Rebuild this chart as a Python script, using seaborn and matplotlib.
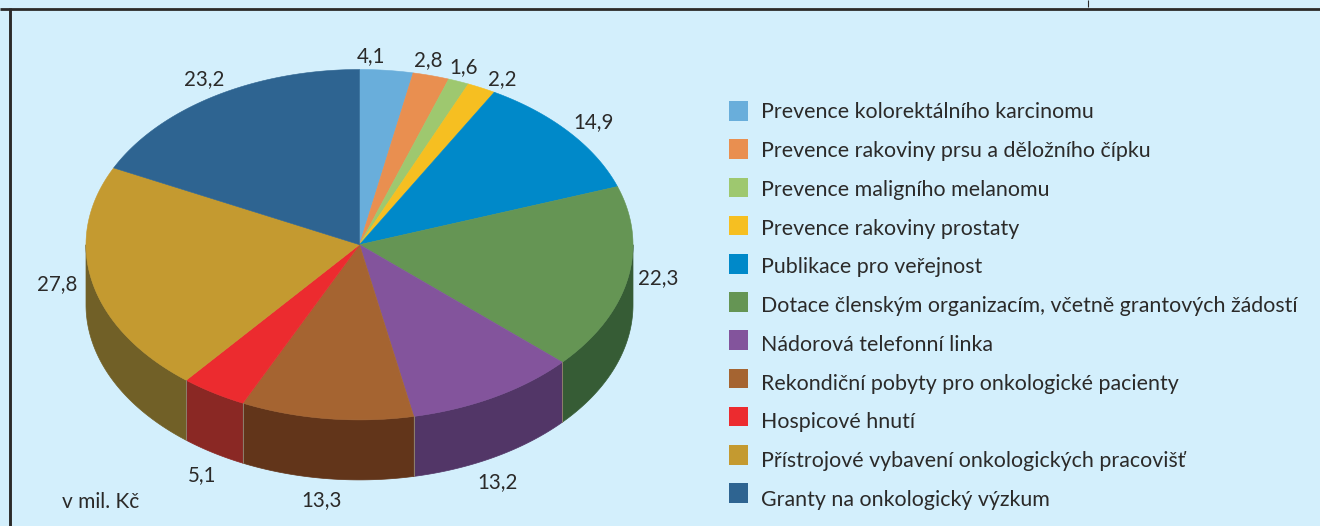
import numpy as np
import pandas as pd
import matplotlib
matplotlib.use('Agg')
import matplotlib.pyplot as plt
import seaborn as sns
from matplotlib.patches import Polygon

labels = ['Prevence kolorektálního karcinomu', 'Prevence rakoviny prsu a děložního čípku',
          'Prevence maligního melanomu', 'Prevence rakoviny prostaty', 'Publikace pro veřejnost',
          'Dotace členským organizacím, včetně grantových žádostí', 'Nádorová telefonní linka',
          'Rekondiční pobyty pro onkologické pacienty', 'Hospicové hnutí',
          'Přístrojové vybavení onkologických pracovišť', 'Granty na onkologický výzkum']
values = [4.1, 2.8, 1.6, 2.2, 14.9, 22.3, 13.2, 13.3, 5.1, 27.8, 23.2]
value_text = ['4,1', '2,8', '1,6', '2,2', '14,9', '22,3', '13,2', '13,3', '5,1', '27,8', '23,2']
top_colors = ['#69aedb', '#e98f50', '#9ec86f', '#f6bf21', '#0089c9', '#659554',
              '#83549c', '#a56431', '#ec2b2f', '#c49a30', '#2e6491']
side_colors = ['#3d6a8a', '#8f5a32', '#627d45', '#9a7815', '#00557e', '#365c35',
               '#523667', '#62351a', '#8a2824', '#716027', '#1d3f5c']

BG = '#d3effc'
DARK = '#2b2a29'
FONT = 'Lato'

sns.set_theme(style='white')
plt.rcParams['font.family'] = [FONT, 'DejaVu Sans']

fig = plt.figure(figsize=(13.2, 5.26), dpi=100, facecolor=BG)
ax = fig.add_axes([0, 0, 1, 1])
ax.set_xlim(0, 1320)
ax.set_ylim(526, 0)
ax.axis('off')

# pie geometry, angle runs clockwise from 12 o'clock
cx, cy, rx, ry, depth = 359.5, 244.7, 273.5, 175.2, 60


def rim(a0, a1, shift=0):
    t = np.radians(np.linspace(a0, a1, max(int(abs(a1 - a0) * 2), 2)))
    return np.column_stack([cx + rx * np.sin(t), cy - ry * np.cos(t) + shift])


edges = np.concatenate([[0], np.cumsum(values)]) / sum(values) * 360

# side wall first
for i in range(len(values)):
    a0, a1 = max(edges[i], 90), min(edges[i + 1], 270)
    if a1 <= a0:
        continue
    pts = np.vstack([rim(a0, a1), rim(a0, a1, depth)[::-1]])
    ax.add_patch(Polygon(pts, closed=True, fc=side_colors[i], ec=side_colors[i], lw=0.5))
    if a0 > 90:
        p = rim(a0, a0)[0]
        ax.plot([p[0], p[0]], [p[1], p[1] + depth], color='#8d7f6c', lw=0.7)

# top face
for i in range(len(values)):
    pts = np.vstack([[cx, cy], rim(edges[i], edges[i + 1])])
    ax.add_patch(Polygon(pts, closed=True, fc=top_colors[i], ec=top_colors[i], lw=0.4))

# value labels, placed by baseline
label_xy = [(371.5, 62.5), (428, 66.5), (463.5, 73.5), (502, 85.5), (594, 128.5), (658, 284.5),
            (498, 488.5), (322, 506.5), (202.5, 481.5), (57.5, 290.5), (204, 85.5)]
for txt, (x, y) in zip(value_text, label_xy):
    ax.text(x, y, txt, ha='center', va='baseline', fontsize=14.8, color=DARK)

ax.text(62, 507.5, 'v mil. Kč', ha='left', va='baseline', fontsize=15, color=DARK)

# legend swatches through seaborn
legend_df = pd.DataFrame({'label': labels, 'row': range(len(labels))})
legend_df['x'] = 738.5
legend_df['y'] = 111 + legend_df['row'] * 38.2
sns.scatterplot(data=legend_df, x='x', y='y', hue='label', palette=top_colors, marker='s',
                s=197, linewidth=0, legend=False, ax=ax, zorder=3)
ax.set_xlim(0, 1320)
ax.set_ylim(526, 0)
for _, r in legend_df.iterrows():
    ax.text(761, 118.3 + r['row'] * 38.77, r['label'], ha='left', va='baseline',
            fontsize=15.4, color=DARK)

# frame
ax.plot([0, 1320], [8.6, 8.6], color=DARK, lw=2, solid_capstyle='butt')
ax.plot([10, 10], [8, 526], color=DARK, lw=2.1, solid_capstyle='butt')
ax.plot([1087.5, 1087.5], [0, 7], color=DARK, lw=0.8, solid_capstyle='butt')

fig.savefig('out.png', dpi=100, facecolor=BG)
